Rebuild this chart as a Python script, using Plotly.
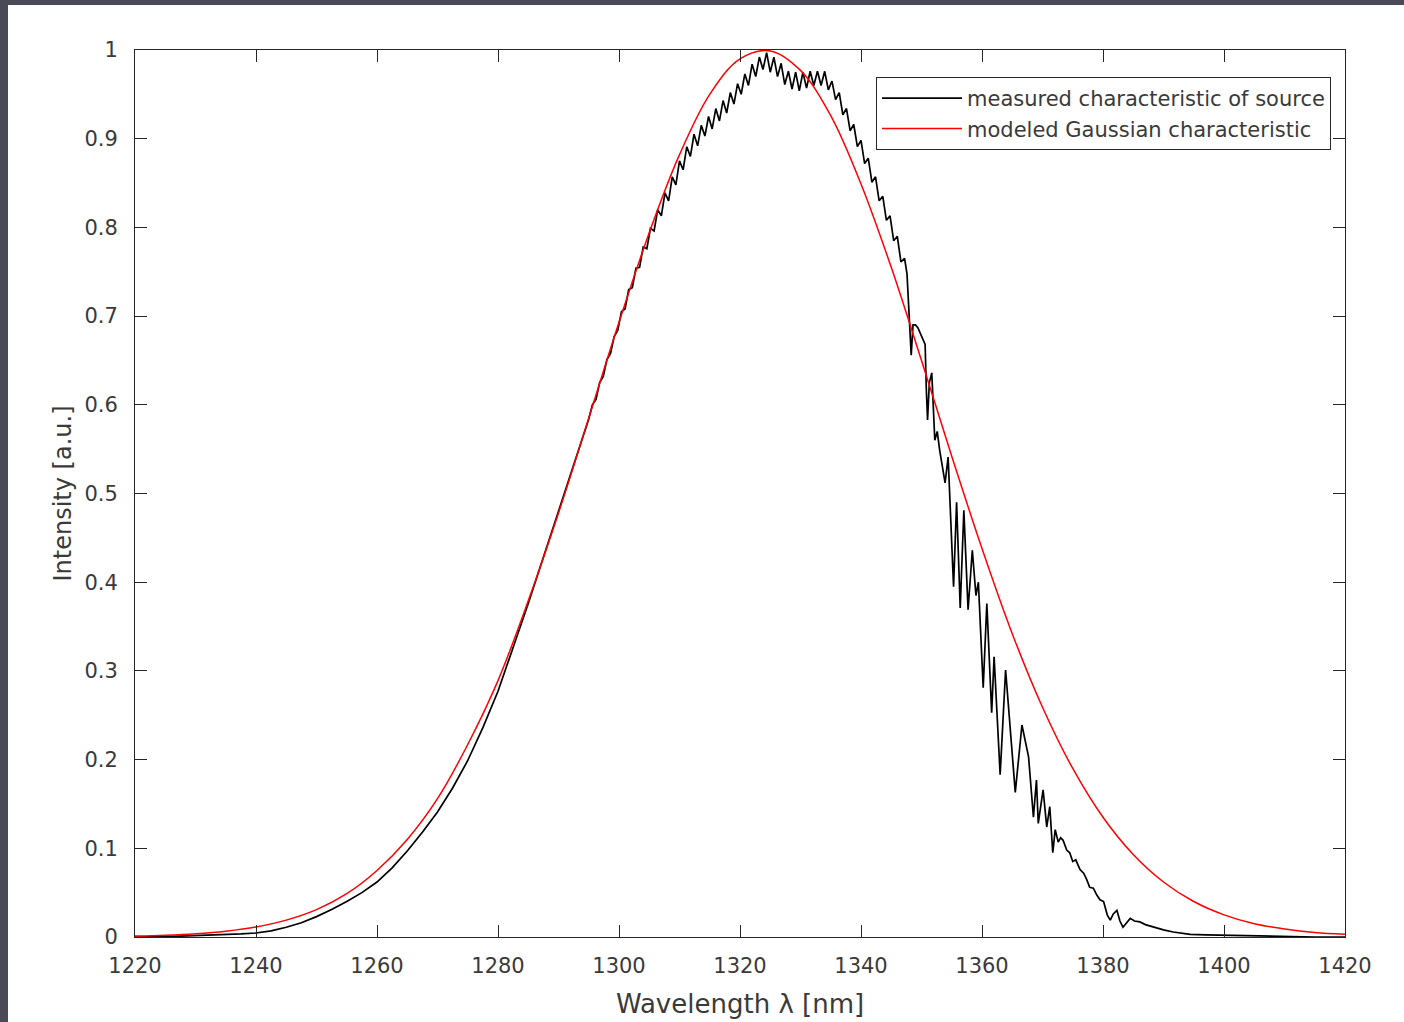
import plotly.graph_objects as go

# ---------------- data ----------------
# modeled Gaussian characteristic (red)
gauss_wl = [1220, 1225, 1230, 1235, 1240, 1245, 1250, 1255, 1260, 1265, 1270, 1275,
            1280, 1285, 1290, 1295, 1300, 1305, 1310, 1315, 1320, 1325, 1330, 1335,
            1340, 1345, 1350, 1355, 1360, 1365, 1370, 1375, 1380, 1385, 1390, 1395,
            1400, 1405, 1410, 1415, 1420]
gauss_int = [0.001, 0.002, 0.0037, 0.0066, 0.0113, 0.019, 0.0308, 0.0488, 0.075, 0.110, 0.156, 0.217,
             0.289, 0.379, 0.478, 0.585, 0.693, 0.794, 0.882, 0.950, 0.990, 0.999, 0.977, 0.926,
             0.849, 0.755, 0.650, 0.542, 0.438, 0.342, 0.259, 0.190, 0.135, 0.093, 0.062, 0.040,
             0.025, 0.015, 0.009, 0.005, 0.003]

# measured characteristic of source (black)
meas_wl = [
    1220, 1222.5, 1225, 1227.5, 1230, 1232.5, 1235, 1237.5, 1240, 1242.5, 1245, 1247.5,
    1250, 1252.5, 1255, 1257.5, 1260, 1262.5, 1265, 1267.5, 1270, 1272.5, 1275, 1277.5,
    1280, 1282.5, 1285, 1287.5, 1290, 1292.5, 1295,
    1295.6, 1296.2, 1296.8, 1297.4, 1298.0, 1298.6, 1299.2, 1299.8, 1300.4, 1301.0,
    1301.6, 1302.2, 1302.8, 1303.4, 1304.0, 1304.6, 1305.2, 1305.8, 1306.4, 1307.0,
    1307.6, 1308.2, 1308.8, 1309.4, 1310.0, 1310.6, 1311.2, 1311.8, 1312.4, 1313.0,
    1313.6, 1314.2, 1314.8, 1315.4, 1316.0, 1316.6, 1317.2, 1317.8, 1318.4, 1319.0,
    1319.6, 1320.2, 1320.8, 1321.4, 1322.0, 1322.6, 1323.2, 1323.8, 1324.4, 1325.0,
    1325.6, 1326.2, 1326.8, 1327.4, 1328.0, 1328.6, 1329.2, 1329.8, 1330.4, 1331.0,
    1331.6, 1332.2, 1332.8, 1333.4, 1334.0, 1334.6, 1335.2, 1335.8, 1336.4, 1337.0,
    1337.6, 1338.2, 1338.8, 1339.4, 1340.0, 1340.6, 1341.2, 1341.8, 1342.4, 1343.0,
    1343.6, 1344.2, 1344.8, 1345.4, 1346.0, 1346.6, 1347.2, 1347.6,
    1347.9, 1348.1, 1348.3, 1348.6, 1349.0, 1349.4, 1350.0, 1350.6, 1350.8, 1351.0,
    1351.3, 1351.7, 1352.2, 1352.6, 1353.0, 1353.9, 1354.4, 1355.0, 1355.3, 1355.8,
    1356.4, 1357.0, 1357.7, 1358.4, 1359.0, 1359.4, 1360.2, 1360.8, 1361.6, 1362.0,
    1363.0, 1363.9, 1364.6, 1365.5, 1366.6, 1367.7, 1368.5, 1369.0, 1369.3, 1370.1,
    1370.7, 1371.2, 1371.7, 1372.1, 1372.6, 1373.0, 1373.4, 1374.0, 1374.5, 1375.0,
    1375.5, 1376.2, 1376.8, 1377.3, 1377.8, 1378.4, 1379.0, 1379.5, 1380.1, 1380.7,
    1381.2, 1381.7, 1382.3, 1382.8, 1383.3, 1383.9, 1384.5, 1385.2, 1386.1, 1387.0,
    1388.0, 1388.9, 1390.0, 1391.6, 1393.0, 1394.4, 1397.0, 1400.0, 1403.0, 1406.0,
    1410.0, 1415.0, 1420.0]
meas_int = [
    0.000, 0.000, 0.0005, 0.001, 0.0015, 0.002, 0.003, 0.0035, 0.0045, 0.007, 0.011, 0.016,
    0.023, 0.031, 0.040, 0.050, 0.062, 0.078, 0.097, 0.118, 0.141, 0.168, 0.199, 0.236,
    0.277, 0.326, 0.376, 0.428, 0.479, 0.532, 0.584,
    0.600, 0.606, 0.625, 0.632, 0.651, 0.658, 0.677, 0.684, 0.705, 0.708,
    0.730, 0.732, 0.754, 0.755, 0.778, 0.776, 0.799, 0.796, 0.820, 0.813,
    0.839, 0.830, 0.857, 0.848, 0.875, 0.865, 0.891, 0.880, 0.905, 0.892,
    0.915, 0.903, 0.925, 0.911, 0.934, 0.920, 0.943, 0.929, 0.952, 0.939,
    0.962, 0.950, 0.973, 0.960, 0.984, 0.970, 0.992, 0.978, 0.997, 0.975,
    0.992, 0.970, 0.985, 0.961, 0.976, 0.956, 0.975, 0.954, 0.975, 0.957,
    0.976, 0.960, 0.976, 0.960, 0.976, 0.955, 0.965, 0.944, 0.952, 0.927,
    0.934, 0.909, 0.916, 0.891, 0.898, 0.872, 0.878, 0.851, 0.857, 0.830,
    0.835, 0.808, 0.813, 0.785, 0.790, 0.761, 0.765, 0.748,
    0.700, 0.684, 0.656, 0.690, 0.690, 0.687, 0.678, 0.668, 0.617, 0.583,
    0.625, 0.636, 0.560, 0.570, 0.549, 0.512, 0.541, 0.445, 0.395, 0.490,
    0.371, 0.481, 0.369, 0.436, 0.385, 0.400, 0.281, 0.376, 0.253, 0.316,
    0.183, 0.301, 0.245, 0.163, 0.239, 0.203, 0.135, 0.177, 0.128, 0.166,
    0.124, 0.147, 0.095, 0.121, 0.107, 0.112, 0.109, 0.098, 0.095, 0.085,
    0.087, 0.076, 0.072, 0.065, 0.056, 0.055, 0.047, 0.042, 0.040, 0.025,
    0.019, 0.026, 0.030, 0.018, 0.011, 0.016, 0.021, 0.018, 0.017, 0.014,
    0.012, 0.010, 0.008, 0.0056, 0.004, 0.003, 0.0025, 0.002, 0.0015, 0.001,
    0.0005, 0.000, 0.000]

x_ticks = [1220, 1240, 1260, 1280, 1300, 1320, 1340, 1360, 1380, 1400, 1420]
y_ticks = [0, 0.1, 0.2, 0.3, 0.4, 0.5, 0.6, 0.7, 0.8, 0.9, 1]
y_tick_text = ["0", "0.1", "0.2", "0.3", "0.4", "0.5", "0.6", "0.7", "0.8", "0.9", "1"]

# ---------------- figure ----------------
W, H = 1404, 1022
ML, MR, MT, MB = 135, 59, 50, 85
PW, PH = W - ML - MR, H - MT - MB

FONT = "DejaVu Sans, Liberation Sans, Arial, sans-serif"
TXT = "#3a3a3a"
AX = "#262626"

fig = go.Figure()
fig.add_trace(go.Scatter(x=meas_wl, y=meas_int, mode="lines",
                         line=dict(color="#000000", width=1.7),
                         name="measured characteristic of source", legendgroup="a"))
fig.add_trace(go.Scatter(x=gauss_wl, y=gauss_int, mode="lines",
                         line=dict(color="#ff0000", width=1.5, shape="spline", smoothing=1.0),
                         name="modeled Gaussian characteristic", legendgroup="b"))

def px2paper_x(px):
    return (px - ML) / PW

def px2paper_y(py):
    return (H - MB - py) / PH

# dark window frame (top and left strips)
frame_col = "#4a4a56"
fig.add_shape(type="rect", xref="paper", yref="paper",
              x0=px2paper_x(0), x1=px2paper_x(W), y0=px2paper_y(0), y1=px2paper_y(5),
              fillcolor=frame_col, line_width=0, layer="above")
fig.add_shape(type="rect", xref="paper", yref="paper",
              x0=px2paper_x(0), x1=px2paper_x(8), y0=px2paper_y(0), y1=px2paper_y(H),
              fillcolor=frame_col, line_width=0, layer="above")

axis_common = dict(showline=True, linecolor=AX, linewidth=1, mirror="ticks",
                   ticks="inside", ticklen=12, tickwidth=1, tickcolor=AX,
                   showgrid=False, zeroline=False,
                   tickfont=dict(family=FONT, size=21, color=TXT))

fig.update_xaxes(range=[1220, 1420], tickvals=x_ticks, ticklabelstandoff=10,
                 title=dict(text="Wavelength λ [nm]", font=dict(family=FONT, size=26, color=TXT),
                            standoff=17),
                 **axis_common)
fig.update_yaxes(range=[0, 1], tickvals=y_ticks, ticktext=y_tick_text, ticklabelstandoff=12,
                 title=dict(text="Intensity [a.u.]", font=dict(family=FONT, size=24, color=TXT),
                            standoff=5),
                 **axis_common)

fig.update_layout(
    width=W, height=H,
    margin=dict(l=ML, r=MR, t=MT, b=MB, autoexpand=False),
    paper_bgcolor="white", plot_bgcolor="white",
    showlegend=True,
    legend=dict(x=px2paper_x(876), y=px2paper_y(77), xanchor="left", yanchor="top",
                bgcolor="white", bordercolor=AX, borderwidth=1,
                font=dict(family=FONT, size=21, color=TXT),
                itemwidth=80, tracegroupgap=0),
)

fig.write_html("out.html", config={"displayModeBar": False},
               post_script="document.body.style.margin='0px';document.body.style.overflow='hidden';")
